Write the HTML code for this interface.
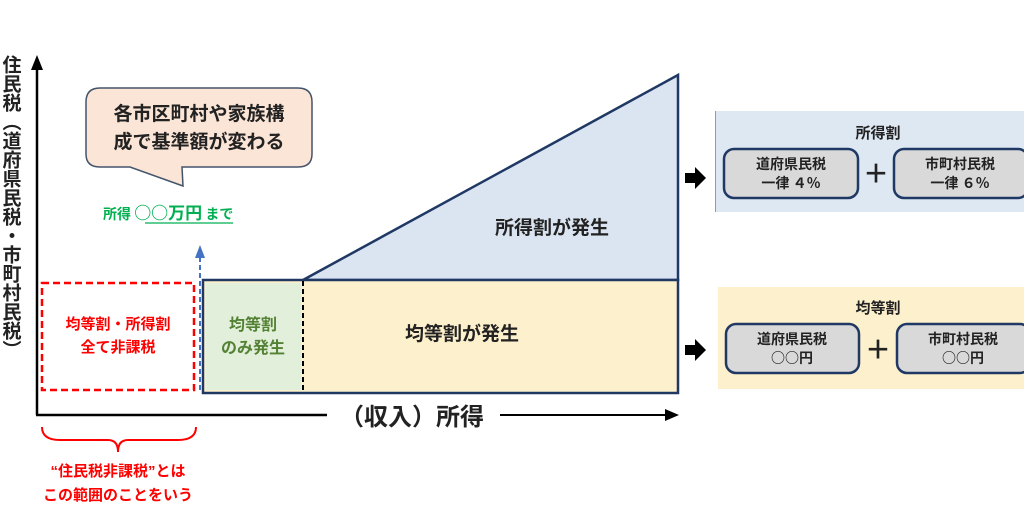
<!DOCTYPE html>
<html><head><meta charset="utf-8"><style>
html,body{margin:0;padding:0;background:#fff}
svg{display:block}
text{font-family:"Liberation Sans","Noto Sans CJK JP",sans-serif;font-weight:bold}
.c{font-family:"Noto Sans CJK JP",sans-serif}
</style></head><body>
<svg width="1024" height="525" viewBox="0 0 1024 525" xmlns="http://www.w3.org/2000/svg">
<!-- y axis -->
<line x1="37" y1="415" x2="37" y2="68" stroke="#000" stroke-width="2.5"/>
<path d="M31,70 L37,55 L43,70 Z" fill="#000"/>
<!-- x axis -->
<line x1="36" y1="415" x2="327" y2="415" stroke="#000" stroke-width="2.5"/>
<line x1="500" y1="415" x2="668" y2="415" stroke="#000" stroke-width="2"/>
<path d="M665,409 L679,415 L665,421 Z" fill="#000"/>
<text x="412" y="425" font-size="24" text-anchor="middle" fill="#222">（収入）所得</text>
<!-- y label vertical -->
<text font-size="19" fill="#222" font-weight="normal" style="writing-mode:vertical-rl" x="10" y="55">住民税（道府県民税・市町村民税）</text>
<!-- shapes -->
<polygon points="303,280 678,75 678,280" fill="#dae5f1" stroke="#1f3864" stroke-width="2.5"/>
<rect x="203" y="280" width="475" height="113" fill="#fdf0cc" stroke="#1f3864" stroke-width="2.5"/>
<rect x="206" y="283" width="95" height="107" fill="#e2efda"/>
<line x1="303" y1="281" x2="303" y2="392" stroke="#000" stroke-width="2" stroke-dasharray="5,3"/>
<text x="552" y="234" font-size="19" text-anchor="middle" fill="#222">所得割が発生</text>
<text x="462" y="340" font-size="19" text-anchor="middle" fill="#222">均等割が発生</text>
<text x="253" y="330" font-size="16" text-anchor="middle" fill="#548235" font-weight="normal">均等割</text>
<text x="253" y="353" font-size="16" text-anchor="middle" fill="#548235" font-weight="normal">のみ発生</text>
<!-- red dashed -->
<rect x="42" y="283" width="152" height="107" fill="none" stroke="#ff0000" stroke-width="2.5" stroke-dasharray="7,4"/>
<text x="118" y="329" font-size="15" text-anchor="middle" fill="#ff0000" font-weight="normal">均等割・所得割</text>
<text x="118" y="352" font-size="15" text-anchor="middle" fill="#ff0000" font-weight="normal">全て非課税</text>
<!-- blue dashed arrow -->
<line x1="200" y1="390" x2="200" y2="256" stroke="#4472c4" stroke-width="2" stroke-dasharray="5,3"/>
<path d="M195,258 L200,245 L205,258 Z" fill="#4472c4"/>
<!-- callout -->
<path d="M100,88 H298 Q312,88 312,102 V154 Q312,167 298,167 H182 L183,186 L130,167 H100 Q86,167 86,154 V102 Q86,88 100,88 Z" fill="#fbe5d6" stroke="#44546a" stroke-width="1.5"/>
<text x="199" y="120" font-size="19" text-anchor="middle" fill="#222">各市区町村や家族構</text>
<text x="199" y="148" font-size="19" text-anchor="middle" fill="#222">成で基準額が変わる</text>
<text x="103" y="219" font-size="14" fill="#00b050" font-weight="normal" class="c">所得 <tspan font-size="17">○○万円</tspan> まで</text>
<line x1="145" y1="223" x2="233" y2="223" stroke="#00b050" stroke-width="1.2"/>
<!-- brace -->
<path d="M42,427 Q42,440 60,440 H108 Q118,440 118,452 Q118,440 128,440 H178 Q196,440 196,427" fill="none" stroke="#ff0000" stroke-width="2"/>
<text x="118" y="476" font-size="15" text-anchor="middle" fill="#ff0000" font-weight="normal">“住民税非課税”とは</text>
<text x="118" y="500" font-size="15" text-anchor="middle" fill="#ff0000" font-weight="normal">この範囲のことをいう</text>
<!-- right arrows -->
<path d="M685,173 H695 V167 L706,178 L695,189 V183 H685 Z" fill="#000"/>
<path d="M685,345 H695 V339 L706,350 L695,361 V355 H685 Z" fill="#000"/>
<!-- top panel -->
<rect x="715" y="111" width="309" height="101" fill="#dde8f3"/>
<line x1="715.5" y1="111" x2="715.5" y2="212" stroke="#999" stroke-width="1"/>
<text x="878" y="138" font-size="15" text-anchor="middle" fill="#222" font-weight="normal">所得割</text>
<rect x="724" y="149" width="134" height="49" rx="10" fill="#d9d9d9" stroke="#1f3864" stroke-width="2.5"/>
<rect x="894" y="149" width="134" height="49" rx="10" fill="#d9d9d9" stroke="#1f3864" stroke-width="2.5"/>
<g class="c" font-size="14" fill="#222" text-anchor="middle">
<text x="791" y="169" class="c" font-weight="500">道府県民税</text>
<text x="791" y="188" class="c" font-weight="500">一律 ４％</text>
<text x="960" y="169" class="c" font-weight="500">市町村民税</text>
<text x="960" y="188" class="c" font-weight="500">一律 ６％</text>
</g>
<text x="876" y="183" font-size="26" text-anchor="middle" fill="#222" font-weight="normal">＋</text>
<!-- bottom panel -->
<rect x="718" y="287" width="306" height="102" fill="#fdf0cd"/>
<text x="878" y="313" font-size="15" text-anchor="middle" fill="#222" font-weight="normal">均等割</text>
<rect x="726" y="324" width="133" height="49" rx="10" fill="#d9d9d9" stroke="#1f3864" stroke-width="2.5"/>
<rect x="897" y="324" width="133" height="49" rx="10" fill="#d9d9d9" stroke="#1f3864" stroke-width="2.5"/>
<g font-size="14" fill="#222" text-anchor="middle">
<text x="792" y="344" class="c" font-weight="500">道府県民税</text>
<text x="792" y="363" class="c" font-weight="500">○○円</text>
<text x="963" y="344" class="c" font-weight="500">市町村民税</text>
<text x="963" y="363" class="c" font-weight="500">○○円</text>
</g>
<text x="878" y="359" font-size="26" text-anchor="middle" fill="#222" font-weight="normal">＋</text>
</svg>
</body></html>
